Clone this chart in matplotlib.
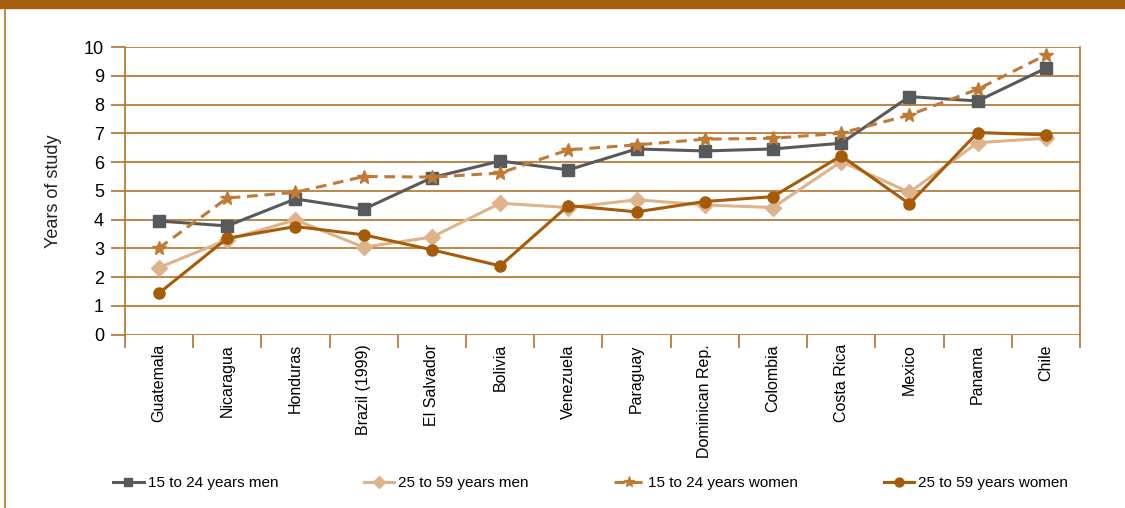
import matplotlib.pyplot as plt
import numpy as np

plt.rcParams["font.family"] = ["Liberation Sans", "DejaVu Sans"]

# data
countries = ["Guatemala", "Nicaragua", "Honduras", "Brazil (1999)", "El Salvador",
             "Bolivia", "Venezuela", "Paraguay", "Dominican Rep.", "Colombia",
             "Costa Rica", "Mexico", "Panama", "Chile"]
men_15_24 = [3.95, 3.78, 4.72, 4.36, 5.46, 6.04, 5.73, 6.46, 6.39, 6.46, 6.66, 8.28, 8.13, 9.27]
men_25_59 = [2.33, 3.30, 3.99, 3.04, 3.39, 4.57, 4.42, 4.69, 4.51, 4.42, 6.02, 4.95, 6.68, 6.83]
women_15_24 = [3.01, 4.75, 4.95, 5.50, 5.48, 5.62, 6.43, 6.60, 6.80, 6.83, 7.01, 7.64, 8.54, 9.73]
women_25_59 = [1.44, 3.35, 3.76, 3.47, 2.95, 2.39, 4.49, 4.27, 4.63, 4.80, 6.22, 4.55, 7.03, 6.95]

brown = "#b3722a"
x = np.arange(len(countries))

fig = plt.figure(figsize=(11.25, 5.08), dpi=100)
ax = fig.add_axes([0.111, 0.3415, 0.849, 0.5655])

# frame decorations: top band and left border
fig.patches.append(plt.Rectangle((0, 0.984), 1, 0.016, transform=fig.transFigure,
                                 color="#a65f0e", zorder=0))
fig.lines.append(plt.Line2D([0.004, 0.004], [0, 0.984], transform=fig.transFigure,
                            color="#b8732a", lw=1.2))

ax.plot(x, men_15_24, color="#58595b", lw=2.2, marker="s", ms=8, label="15 to 24 years men", zorder=4)
ax.plot(x, men_25_59, color="#dcb38a", lw=2.2, marker="D", ms=8, label="25 to 59 years men", zorder=3)
ax.plot(x, women_15_24, color="#c07a35", lw=2.2, ls=(0, (3.5, 2.2)), marker="*", ms=10,
        label="15 to 24 years women", zorder=5)
ax.plot(x, women_25_59, color="#a65b08", lw=2.2, marker="o", ms=8, label="25 to 59 years women", zorder=6)

ax.set_xlim(-0.5, len(countries) - 0.5)
ax.set_ylim(0, 10)
ax.set_yticks(range(0, 11))
ax.yaxis.grid(True, color=brown, lw=1.2)
ax.set_axisbelow(True)

for s in ["top", "bottom"]:
    ax.spines[s].set_visible(False)
for s in ["left", "right"]:
    ax.spines[s].set_color(brown)
    ax.spines[s].set_linewidth(1.2)

ax.tick_params(axis="y", length=10, width=1.2, color=brown, labelsize=13, pad=5)
ax.set_xticks(x)
ax.set_xticklabels(countries, rotation=90, fontsize=11.5, va="top")
ax.tick_params(axis="x", which="major", length=0, pad=7)
ax.set_xticks(np.arange(-0.5, len(countries)), minor=True)
ax.tick_params(axis="x", which="minor", length=9.5, width=1.2, color=brown)

ax.set_ylabel("Years of study", fontsize=13, labelpad=16, color="#222222")

fig.legend(loc="center", bbox_to_anchor=(0.525, 0.049), ncol=4, frameon=False,
           fontsize=11, handlelength=2.0, handletextpad=0.25, columnspacing=5.6,
           markerscale=0.8)

fig.savefig("out.png", dpi=100)
